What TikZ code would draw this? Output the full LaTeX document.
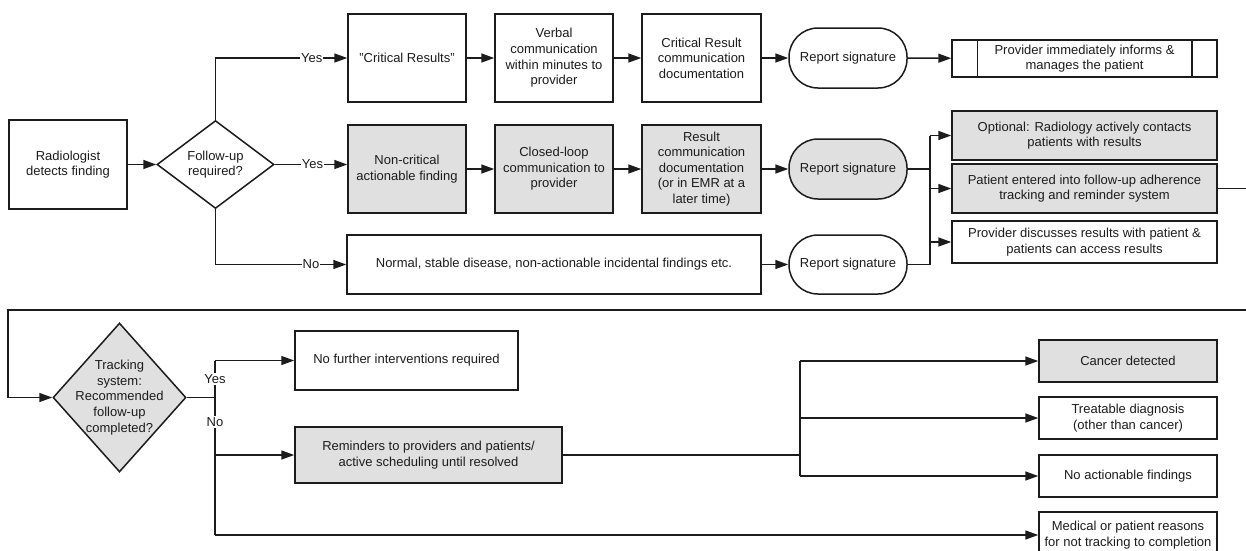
\documentclass[tikz,border=0pt]{standalone}
\usepackage{fontspec}
\setmainfont{Liberation Sans}
\usetikzlibrary{arrows.meta,shapes.geometric}
\definecolor{boxgray}{RGB}{224,224,224}
\definecolor{ink}{RGB}{28,28,28}
\begin{document}
\begin{tikzpicture}[x=1pt,y=-1pt,
  every node/.style={font=\fontsize{13pt}{15.6pt}\selectfont, text=ink},
  box/.style={draw=ink, line width=1.5pt, rectangle, align=center, inner sep=0pt},
  gbox/.style={box, fill=boxgray},
  term/.style={box, rounded corners=29pt},
  dia/.style={draw=ink, line width=1.5pt, diamond, inner sep=0pt},
  conn/.style={draw=ink, line width=1.5pt},
  arr/.style={conn, -{Triangle[length=13pt,width=9pt]}},
  lab/.style={fill=white, inner sep=1pt},
  txt/.style={align=center, inner sep=0pt}]
\useasboundingbox[fill=white] (0,0) rectangle (1246,550);

% ---------- top section ----------
\node[box, minimum width=118pt, minimum height=89pt] (rad) at (68,164.5) {Radiologist\\detects finding};
\node[dia, minimum width=117pt, minimum height=88pt] (fu) at (215.5,164.5) {};
\node[txt] (fut) at (fu.center) {Follow-up\\required?};

\node[box, minimum width=118pt, minimum height=88pt] (cr) at (407,58) {"Critical Results"};
\node[box, minimum width=118pt, minimum height=88pt] (verb) at (554,58) {Verbal\\communication\\within minutes to\\provider};
\node[box, minimum width=119pt, minimum height=88pt] (crd) at (701.5,58) {Critical Result\\communication\\documentation};
\node[term, minimum width=118pt, minimum height=60pt] (rs1) at (848,58) {Report signature};
\node[box, minimum width=265pt, minimum height=37pt] (pim) at (1084.5,58.5) {Provider immediately informs \&\\manages the patient};
\draw[conn] ([xshift=26pt]pim.north west) -- ([xshift=26pt]pim.south west);
\draw[conn] ([xshift=-26pt]pim.north east) -- ([xshift=-26pt]pim.south east);

\node[gbox, minimum width=118pt, minimum height=88pt] (nc) at (407,169) {Non-critical\\actionable finding};
\node[gbox, minimum width=118pt, minimum height=88pt] (cl) at (554,169) {Closed-loop\\communication to\\provider};
\node[gbox, minimum width=119pt, minimum height=88pt] (rcd) at (701.5,169) {Result\\communication\\documentation\\(or in EMR at a\\later time)};
\node[term, fill=boxgray, minimum width=118pt, minimum height=60pt] (rs2) at (848,169) {Report signature};

\node[box, minimum width=414pt, minimum height=59pt] (norm) at (554,264.5) {Normal, stable disease, non-actionable incidental findings etc.};
\node[term, minimum width=118pt, minimum height=59pt] (rs3) at (848,264.5) {Report signature};

\node[gbox, minimum width=265pt, minimum height=49pt] (opt) at (1084.5,135.5) {Optional: Radiology actively contacts\\patients with results};
\node[gbox, minimum width=265pt, minimum height=49pt] (pe) at (1084.5,188.5) {Patient entered into follow-up adherence\\tracking and reminder system};
\node[box, minimum width=265pt, minimum height=42pt] (pd) at (1084.5,242) {Provider discusses results with patient \&\\patients can access results};

\draw[arr] (rad) -- (fu);
\draw[arr] (fu.north) |- node[lab, pos=0.865] (y1) {Yes} (cr.west);
\draw[arr] (fu.east) -- node[lab, pos=0.52] (y2) {Yes} (fu.east -| nc.west);
\draw[arr] (fu.south) |- node[lab, pos=0.865] (n1) {No} (norm.west);

\draw[arr] (cr) -- (verb);
\draw[arr] (verb) -- (crd);
\draw[arr] (crd) -- (rs1);
\draw[arr] (rs1) -- (pim);
\draw[arr] (nc) -- (cl);
\draw[arr] (cl) -- (rcd);
\draw[arr] (rcd) -- (rs2);
\draw[arr] (norm) -- (rs3);

\coordinate (j1top) at (930,135.5);
\coordinate (j1bot) at (930,264.5);
\draw[conn] (rs2.east) -- (rs2.east -| j1top);
\draw[conn] (rs3.east) -- (j1bot) -- (j1top);
\draw[arr] (j1top) -- (opt.west);
\draw[arr] (pe.west -| j1top) -- (pe.west);
\draw[arr] (pd.west -| j1top) -- (pd.west);

% ---------- bottom section ----------
\node[dia, fill=boxgray, minimum width=133pt, minimum height=149pt] (tr) at (119.5,397.5) {};
\node[txt] (trt) at (tr.center) {Tracking\\system:\\Recommended\\follow-up\\completed?};

\node[box, minimum width=223pt, minimum height=59pt] (nf) at (406.5,360.5) {No further interventions required};
\node[gbox, minimum width=267pt, minimum height=56pt] (rem) at (428.5,455) {Reminders to providers and patients/\\active scheduling until resolved};

\node[gbox, minimum width=178pt, minimum height=42pt] (can) at (1128,361) {Cancer detected};
\node[box, minimum width=178pt, minimum height=42pt] (tre) at (1128,418) {Treatable diagnosis\\(other than cancer)};
\node[box, minimum width=178pt, minimum height=42pt] (noa) at (1128,476) {No actionable findings};
\node[box, minimum width=178pt, minimum height=46pt] (med) at (1128,535) {Medical or patient reasons\\for not tracking to completion};

\coordinate (lr) at (1254,310);
\coordinate (ll) at (8,310);
\draw[arr] (pe.east) -- (pe.east -| lr) -- (lr) -- (ll) |- (tr.west);

\coordinate (j2) at (215,397.5);
\draw[conn] (tr.east) -- (j2);
\draw[conn] (nf.west -| j2) -- (med.west -| j2);
\draw[arr] (nf.west -| j2) -- (nf.west);
\draw[arr] (rem.west -| j2) -- (rem.west);
\draw[arr] (med.west -| j2) -- (med.west);
\node[lab] (y3) at (215,379) {Yes};
\node[lab] (n2) at (215,422) {No};

\coordinate (j3) at (800,455);
\draw[conn] (rem.east) -- (j3);
\draw[conn] (j3 |- can.west) -- (j3 |- noa.west);
\draw[arr] (j3 |- can.west) -- (can.west);
\draw[arr] (j3 |- tre.west) -- (tre.west);
\draw[arr] (j3 |- noa.west) -- (noa.west);
\end{tikzpicture}
\end{document}
